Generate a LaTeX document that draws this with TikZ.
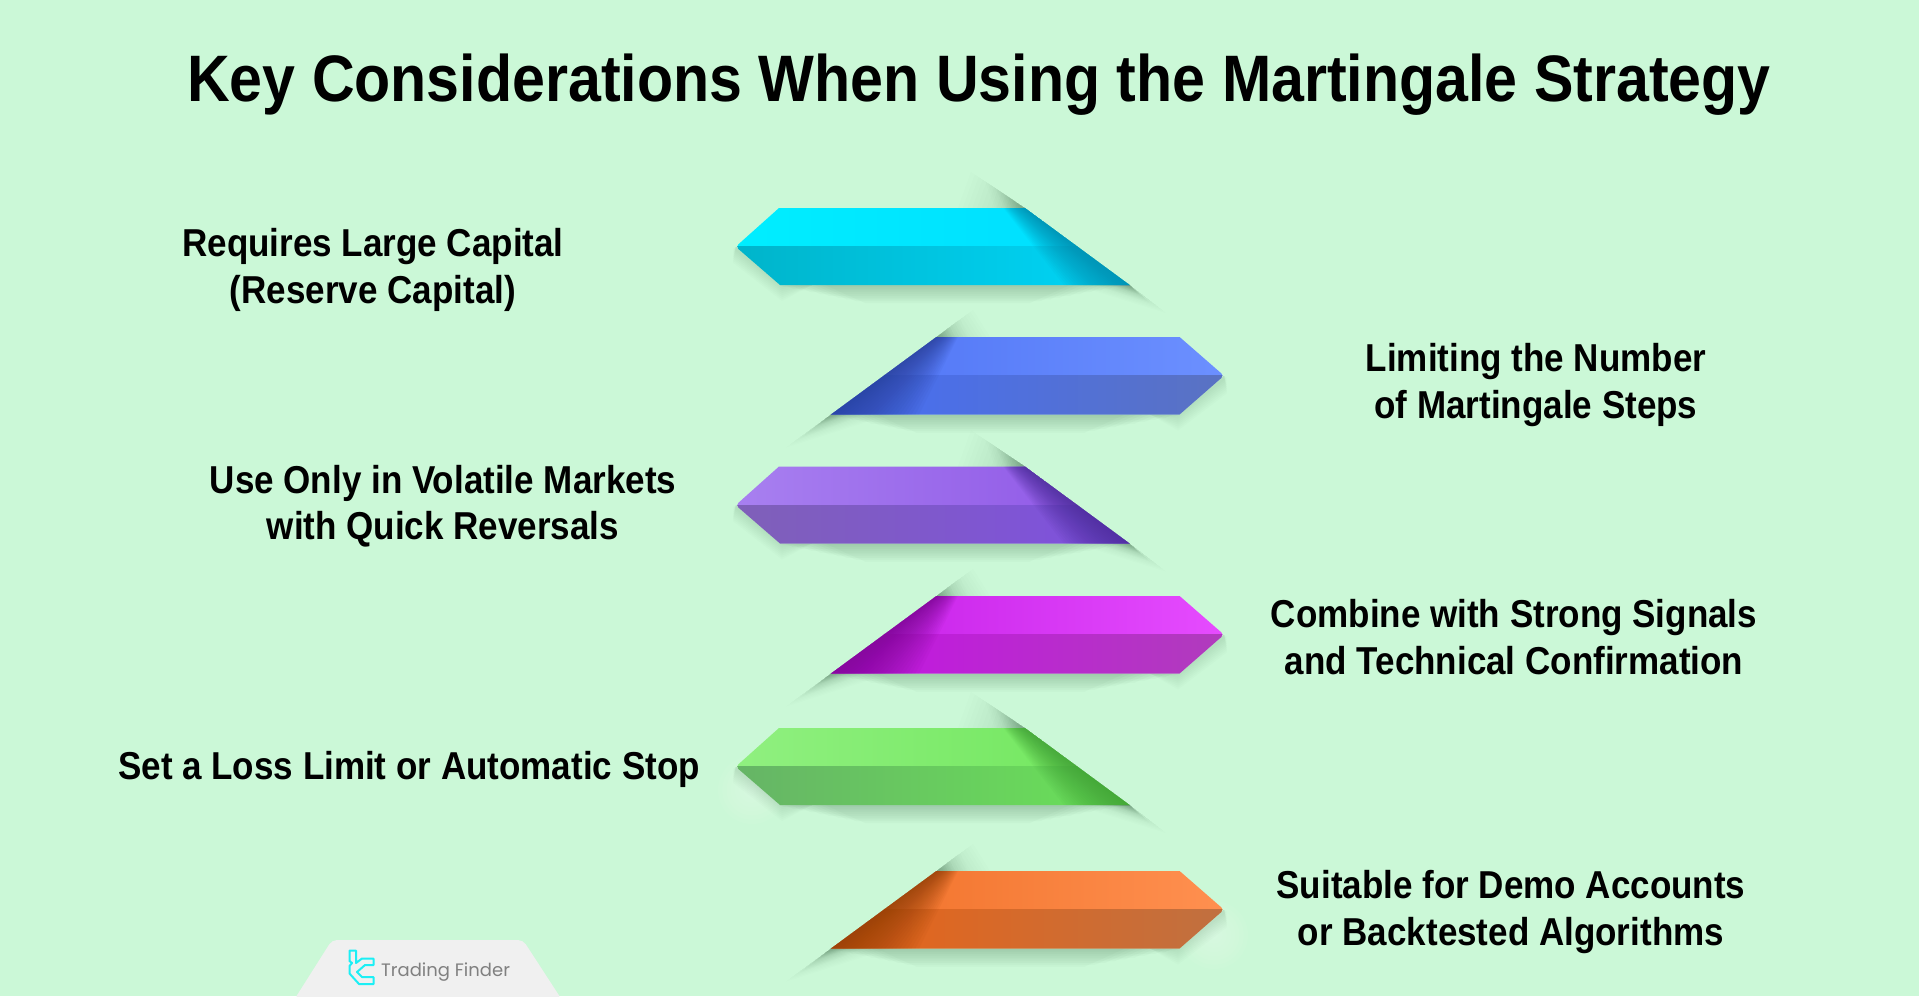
\documentclass[tikz,border=0pt]{standalone}
\usepackage{fontspec}
\setmainfont[FakeStretch=0.9]{Liberation Sans}
\newfontfamily\logofont{Poppins}
\usetikzlibrary{calc}
\definecolor{bgc}{HTML}{CBF8D7}
\definecolor{shc}{HTML}{2F5A3A}
\definecolor{tabc}{HTML}{F0F0F0}
\definecolor{logoc}{HTML}{1CEFF5}
\definecolor{ca}{HTML}{00EEFF}\definecolor{cb}{HTML}{00DCFF}\definecolor{cc}{HTML}{00B4CA}\definecolor{cd}{HTML}{00D6F8}\definecolor{ce}{HTML}{0088AA}
\definecolor{ba}{HTML}{4F74F5}\definecolor{bb}{HTML}{6C90FF}\definecolor{bc}{HTML}{466EF5}\definecolor{bd}{HTML}{5A72C2}\definecolor{be}{HTML}{2A3F98}
\definecolor{pa}{HTML}{A880F0}\definecolor{pb}{HTML}{8E55E6}\definecolor{pc}{HTML}{7F60B8}\definecolor{pd}{HTML}{7F50E0}\definecolor{pe}{HTML}{4A2C98}
\definecolor{ma}{HTML}{C41EE6}\definecolor{mb}{HTML}{E64CFF}\definecolor{mc}{HTML}{C414E4}\definecolor{md}{HTML}{B03CBC}\definecolor{me}{HTML}{7A0890}
\definecolor{ga}{HTML}{90F080}\definecolor{gb}{HTML}{70E65C}\definecolor{gc}{HTML}{66B466}\definecolor{gd}{HTML}{6AE258}\definecolor{ge}{HTML}{3F9E35}
\definecolor{oa}{HTML}{F07028}\definecolor{ob}{HTML}{FF9050}\definecolor{oc}{HTML}{E86418}\definecolor{od}{HTML}{C07040}\definecolor{oe}{HTML}{8F3E08}
\tikzset{
 titletext/.style={font=\bfseries\fontsize{65.7}{76}\selectfont,text=black,anchor=center,inner sep=0},
 itemtext/.style={font=\bfseries\fontsize{38.9}{46.5}\selectfont,text=black,align=center,anchor=center,inner sep=0},
}
\newcommand{\wedgeshadow}[3]{%
 \foreach \k in {1,...,14}{
  \fill[shc,fill opacity=.013] (#1) -- ($(#1)!{\k/14}!(#2)$) -- ($(#1)!{\k/14}!(#3)$) -- cycle;
 }}
\newcommand{\softglow}[3]{%
 \foreach \k in {1,...,8}{
  \fill[white,fill opacity=.045] (#1,#2) circle ({#3*\k/8});
 }}
\newcommand{\undershadow}[3]{%
 \foreach \k in {1,...,10}{
  \fill[shc,fill opacity=.028] (#1+\k*5,#3) -- (#2-\k*6,#3) -- (#2-\k*10,#3+1.8*\k) -- (#1+\k*9,#3+1.8*\k) -- cycle;
 }}
\newcommand{\prismL}[6]{
 \pgfmathsetmacro\yt{#1}\pgfmathsetmacro\ym{#1+38.7}\pgfmathsetmacro\yb{#1+77}
 \wedgeshadow{1025,\yt}{971,\yt-36}{958,\yt}
 \wedgeshadow{1025,\yt}{985,\yt-27}{995,\yt}
 \wedgeshadow{1025,\yt}{995,\yt-20}{1005,\yt}
 \wedgeshadow{1129.6,\yb}{1166,\yb+28}{1075,\yb}
 \wedgeshadow{1129.6,\yb}{1150,\yb+18}{1095,\yb}
 \wedgeshadow{1129.6,\yb}{1140,\yb+10}{1110,\yb}
 \undershadow{775}{1130}{\yb}
 \foreach \k in {1,...,8}{
  \fill[shc,fill opacity=.014] (736,\ym) -- (780,\yb) -- (812,\yb) -- (782,\yb+2*\k) -- (733,\ym+\k*2) -- cycle;
 }
 \begin{scope}
  \clip (1025,\yt) -- (779,\yt) [rounded corners=3.5pt] -- (735.7,\ym) [sharp corners] -- (780,\yb) -- (1129.6,\yb) -- cycle;
  \shade[left color=#2,right color=#3] (733,\yt) rectangle (1131,\ym);
  \shade[left color=#4,right color=#5] (733,\ym) rectangle (1131,\yb);
  \foreach \k in {1,...,24}{
   \fill[#6,fill opacity=.055] (1025,\yt) -- (1131,\yb) -- (1131-\k*2.8,\yb) -- (1025-\k*0.9,\yt) -- cycle;
  }
 \end{scope}
}
\newcommand{\prismR}[6]{
 \pgfmathsetmacro\yt{#1}\pgfmathsetmacro\ym{#1+38.7}\pgfmathsetmacro\yb{#1+77.5}
 \wedgeshadow{936.4,\yt}{973,\yt-27}{990,\yt}
 \wedgeshadow{936.4,\yt}{960,\yt-18}{968,\yt}
 \wedgeshadow{936.4,\yt}{950,\yt-10}{955,\yt}
 \wedgeshadow{831,\yb}{786,\yb+33}{890,\yb}
 \wedgeshadow{831,\yb}{800,\yb+24}{865,\yb}
 \wedgeshadow{831,\yb}{815,\yb+12}{850,\yb}
 \undershadow{826}{1185}{\yb}
 \foreach \k in {1,...,8}{
  \fill[shc,fill opacity=.016] (1224,\ym) -- (1179.6,\yb) -- (1150,\yb) -- (1178,\yb+2*\k) -- (1227,\ym+\k*2.2) -- cycle;
 }
 \begin{scope}
  \clip (936.4,\yt) -- (1179.6,\yt) [rounded corners=3.5pt] -- (1224,\ym) [sharp corners] -- (1179.6,\yb) -- (831,\yb) -- cycle;
  \shade[left color=#2,right color=#3] (829,\yt) rectangle (1226,\ym);
  \shade[left color=#4,right color=#5] (829,\ym) rectangle (1226,\yb);
  \foreach \k in {1,...,24}{
   \fill[#6,fill opacity=.055] (936.4,\yt) -- (829,\yb) -- (829+\k*3.75,\yb) -- (936.4+\k*0.9,\yt) -- cycle;
  }
 \end{scope}
}
\begin{document}
\begin{tikzpicture}[x=1pt,y=-1pt]
\useasboundingbox (0,0) rectangle (1919,996);
\fill[bgc] (0,0) rectangle (1919,996);
\softglow{752}{790}{34}
\softglow{1214}{935}{34}
\prismL{208}{ca}{cb}{cc}{cd}{ce}
\prismR{337}{ba}{bb}{bc}{bd}{be}
\prismL{466.5}{pa}{pb}{pc}{pd}{pe}
\prismR{596}{ma}{mb}{mc}{md}{me}
\prismL{728}{ga}{gb}{gc}{gd}{ge}
\prismR{871}{oa}{ob}{oc}{od}{oe}
\node[titletext] (title) at (979,85) {Key Considerations When Using the Martingale Strategy};
\node[itemtext] (t1) at (373,270) {Requires Large Capital\\(Reserve Capital)};
\node[itemtext] (t2) at (1536,385) {Limiting the Number\\of Martingale Steps};
\node[itemtext] (t3) at (443,506) {Use Only in Volatile Markets\\with Quick Reversals};
\node[itemtext] (t4) at (1514,637) {Combine with Strong Signals\\and Technical Confirmation};
\node[itemtext] (t5) at (409,769) {Set a Loss Limit or Automatic Stop};
\node[itemtext] (t6) at (1511,912) {Suitable for Demo Accounts\\or Backtested Algorithms};
\fill[tabc,rounded corners=5pt] (294,1000) -- (332,940) -- (523,940) -- (562,1000) -- cycle;
\draw[logoc,line width=2pt,line join=round] (349.5,950.5) -- (356,950.5) -- (356,963) -- (362,958.5) -- (373.5,958.5) -- (373.5,965) -- (365,965) -- (357,972) -- (362,977) -- (373.5,977) -- (373.5,984) -- (359,984) -- (349.5,973.5) -- (349.5,966) -- (352,963) -- (349.5,961) -- cycle;
\node[font=\logofont\fontsize{18}{22}\selectfont,text=black!50,anchor=west,inner sep=0] (logo) at (381,972) {Trading Finder};
\end{tikzpicture}
\end{document}
